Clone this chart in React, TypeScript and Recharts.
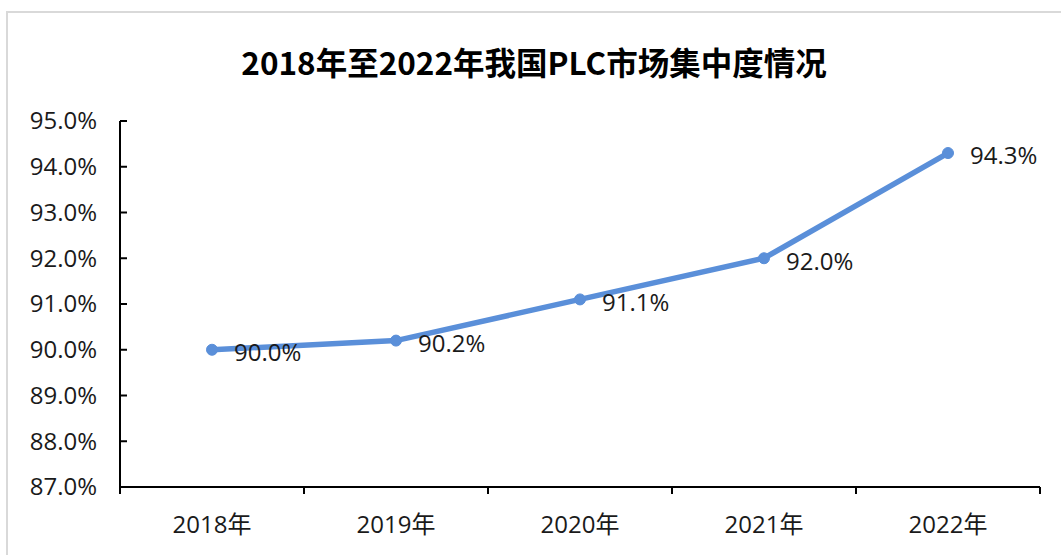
import React from "react";
import { LineChart, Line, XAxis, YAxis, LabelList } from "recharts";

const years = ["2018年", "2019年", "2020年", "2021年", "2022年"];
const concentration = [90.0, 90.2, 91.1, 92.0, 94.3];
const yTicks = [87, 88, 89, 90, 91, 92, 93, 94, 95];

const data = years.map((year, i) => ({ year, value: concentration[i] }));

const FONT = '"Open Sans", "Noto Sans CJK SC", sans-serif';
const LINE_COLOR = "#5A8FD9";
const HALF_BAND = 92;

const YTick = (props: any) => {
  const { x, y, payload } = props;
  return (
    <g>
      <line x1={x + 23} x2={x + 30} y1={y} y2={y} stroke="#000" strokeWidth={2} />
      <text x={x} y={y} dy="0.35em" textAnchor="end" fontSize={24} fill="#1a1a1a" fontFamily={FONT}>
        {`${Number(payload.value).toFixed(1)}%`}
      </text>
    </g>
  );
};

const XTick = (props: any) => {
  const { x, y, payload, index } = props;
  const axisY = y;
  return (
    <g>
      <line x1={x - HALF_BAND} x2={x - HALF_BAND} y1={axisY} y2={axisY + 7} stroke="#000" strokeWidth={2} />
      {index === years.length - 1 && (
        <line x1={x + HALF_BAND} x2={x + HALF_BAND} y1={axisY} y2={axisY + 7} stroke="#000" strokeWidth={2} />
      )}
      <text x={x} y={axisY + 38} dy="0.35em" textAnchor="middle" fontSize={24} fill="#1a1a1a" fontFamily={FONT}>
        {payload.value}
      </text>
    </g>
  );
};

const PointLabel = (props: any) => {
  const { x, y, value } = props;
  return (
    <text x={x + 22} y={y + 3} dy="0.35em" textAnchor="start" fontSize={24} fill="#1a1a1a" fontFamily={FONT}>
      {`${Number(value).toFixed(1)}%`}
    </text>
  );
};

export default function App() {
  return (
    <div style={{ position: "absolute", left: 0, top: 0, width: 1061, height: 555, background: "#fff", overflow: "hidden" }}>
      <div
        style={{
          position: "absolute",
          left: 6,
          top: 11,
          width: 1055,
          height: 544,
          borderTop: "2px solid #d9d9d9",
          borderLeft: "2px solid #d9d9d9",
          boxSizing: "border-box",
        }}
      />
      <div
        style={{
          position: "absolute",
          left: 0,
          top: 40,
          width: 1068,
          textAlign: "center",
          fontFamily: '"Noto Sans CJK SC", sans-serif',
          fontWeight: 700,
          fontSize: 31.5,
          lineHeight: "42px",
          color: "#000",
        }}
      >
        2018年至2022年我国PLC市场集中度情况
      </div>
      <div style={{ position: "absolute", left: 0, top: 0 }}>
        <LineChart width={1061} height={555} data={data} margin={{ top: 121, right: 21, bottom: 0, left: 0 }}>
          <XAxis
            dataKey="year"
            height={68}
            padding={{ left: HALF_BAND, right: HALF_BAND }}
            axisLine={{ stroke: "#000", strokeWidth: 2 }}
            tickLine={false}
            tickSize={0}
            tickMargin={0}
            tick={<XTick />}
            interval={0}
          />
          <YAxis
            width={120}
            domain={[87, 95]}
            ticks={yTicks}
            interval={0}
            axisLine={{ stroke: "#000", strokeWidth: 2 }}
            tickLine={false}
            tickSize={0}
            tickMargin={23}
            tick={<YTick />}
          />
          <Line
            type="linear"
            dataKey="value"
            stroke={LINE_COLOR}
            strokeWidth={5.5}
            dot={{ r: 5.5, fill: LINE_COLOR, stroke: LINE_COLOR, strokeWidth: 1 }}
            isAnimationActive={false}
          >
            <LabelList dataKey="value" content={<PointLabel />} />
          </Line>
        </LineChart>
      </div>
    </div>
  );
}
